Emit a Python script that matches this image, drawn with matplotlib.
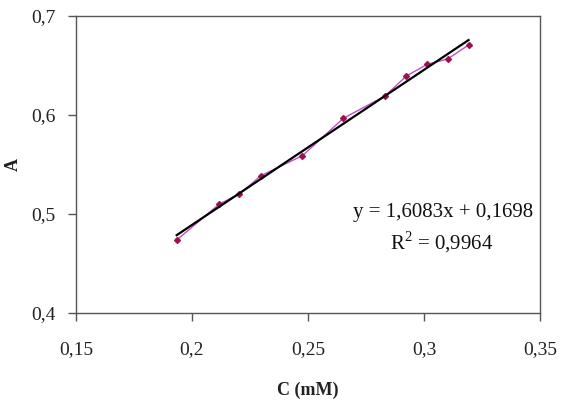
import numpy as np
import matplotlib
matplotlib.use("Agg")
import matplotlib.pyplot as plt
from matplotlib.ticker import FuncFormatter, FixedLocator

conc = [0.1934, 0.2118, 0.2204, 0.2297, 0.2476, 0.2652, 0.2832, 0.2924, 0.3014, 0.3102, 0.3192]
absorb = [0.4737, 0.5101, 0.5200, 0.5387, 0.5589, 0.5966, 0.6192, 0.6394, 0.6512, 0.6566, 0.6707]
x_ticks = [0.15, 0.2, 0.25, 0.3, 0.35]
y_ticks = [0.4, 0.5, 0.6, 0.7]
eq_text = "y = 1,6083x + 0,1698"
r2_text = "R$^2$ = 0,9964"

plt.rcParams['font.family'] = ['Liberation Serif', 'DejaVu Serif']
plt.rcParams['mathtext.fontset'] = 'custom'
plt.rcParams['mathtext.rm'] = 'Liberation Serif'

fig = plt.figure(figsize=(5.74, 4.05), dpi=100)
ax = fig.add_axes([76/574, 1-313/405, (540-76)/574, (313-16)/405])

ax.plot(conc, absorb, color='#C050C8', lw=1.0, marker='D', ms=3,
        mfc='#A0104E', mec='#A0104E', zorder=2)
slope, intercept = np.polyfit(conc, absorb, 1)
xs = np.array([min(conc), max(conc)])
ax.plot(xs, slope*xs + intercept, color='black', lw=1.6, zorder=3)

ax.set_xlim(0.15, 0.35)
ax.set_ylim(0.4, 0.7)
ax.xaxis.set_major_locator(FixedLocator(x_ticks))
ax.yaxis.set_major_locator(FixedLocator(y_ticks))
fmt = FuncFormatter(lambda v, p: ('%g' % round(v, 3)).replace('.', ','))
ax.xaxis.set_major_formatter(fmt)
ax.yaxis.set_major_formatter(fmt)
ax.tick_params(direction='out', length=6, width=1, colors='#555555', labelsize=14,
               labelcolor='#222222')
ax.tick_params(axis='x', pad=14)
ax.tick_params(axis='y', pad=9)
for s in ax.spines.values():
    s.set_color('#555555')
    s.set_linewidth(1.0)

ax.set_xlabel('C (mM)', fontsize=13, fontweight='bold', color='#222222')
ax.set_ylabel('A', fontsize=13, fontweight='bold', color='#222222')
ax.xaxis.set_label_coords(0.5, -(390-313)/297, transform=ax.transAxes)
ax.xaxis.label.set_va('center')
ax.yaxis.set_label_coords(-(76-13)/464, 0.5, transform=ax.transAxes)
ax.yaxis.label.set_va('center')

fig.text(443/574, 1-212/405, eq_text, fontsize=15, ha='center', va='center', color='#111111')
fig.text(442/574, 1-242/405, r2_text, fontsize=15, ha='center', va='center', color='#111111')

fig.savefig('out.png', dpi=100)
